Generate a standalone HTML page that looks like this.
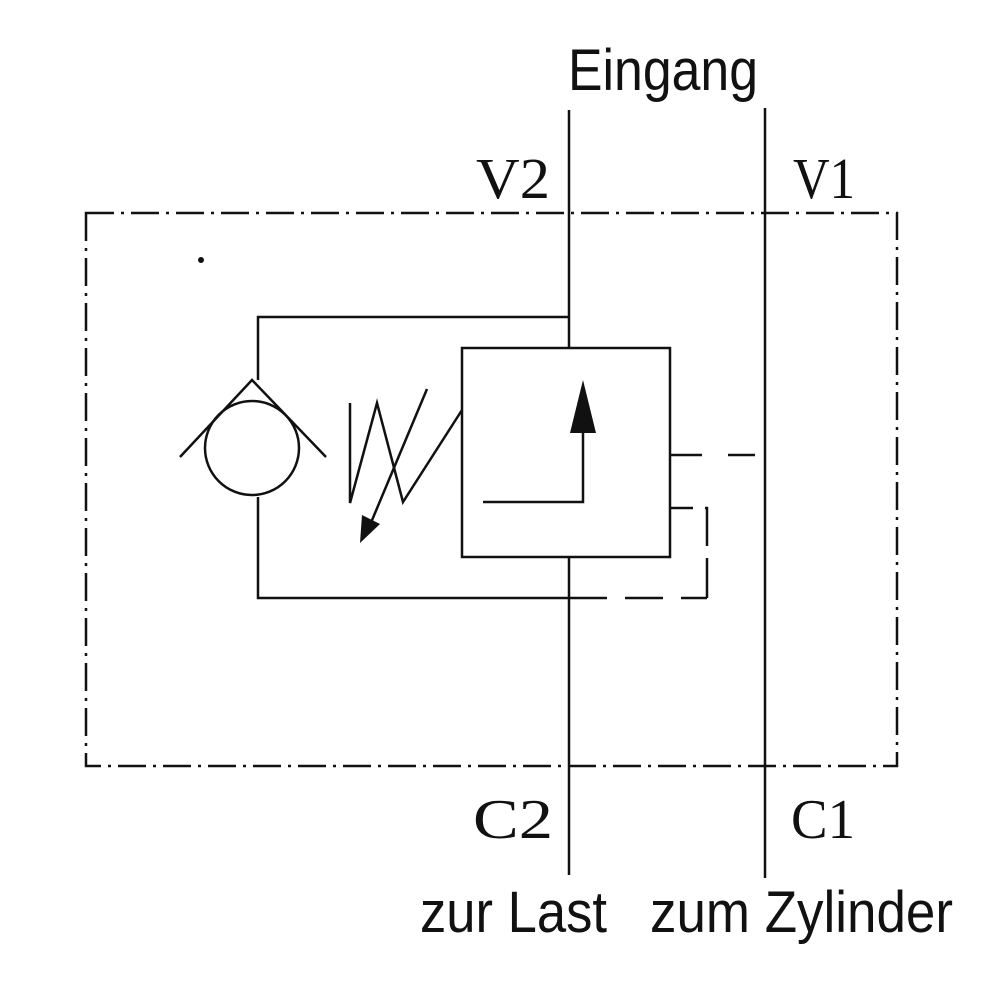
<!DOCTYPE html>
<html><head><meta charset="utf-8"><style>html,body{margin:0;padding:0;background:#fff}svg{display:block}</style></head>
<body>
<svg width="1000" height="1000" viewBox="0 0 1000 1000" xmlns="http://www.w3.org/2000/svg">
<g stroke="#111" stroke-width="2.5" fill="none">
<rect x="86" y="213" width="811" height="553" stroke-dasharray="28,7,3,7"/>
<line x1="569" y1="110" x2="569" y2="875"/>
<line x1="765" y1="108" x2="765" y2="878"/>
<polyline points="569,317 258,317 258,380"/>
<polyline points="258,497 258,598 569,598"/>
<line x1="569" y1="598" x2="707" y2="598" stroke-dasharray="38,18"/>
<polyline points="707,598 707,508 670,508" stroke-dasharray="40,12"/>
<line x1="670" y1="455" x2="755" y2="455" stroke-dasharray="32,26"/>
<circle cx="252" cy="448" r="47"/>
<polyline points="180,457 252,380 326,457"/>
<polyline points="350,403 350,503 377,403 403,502 462,410"/>
<line x1="427" y1="389" x2="370" y2="525"/>
<rect x="462" y="348" width="208" height="209" fill="#fff"/>
<polyline points="483,502 583,502 583,430"/>
</g>
<polygon points="583,380 570,433 596,433" fill="#111"/>
<polygon points="360,543 362,515 380,524" fill="#111"/>
<circle cx="201" cy="260" r="3" fill="#111"/>
<g fill="#111">
<text x="568" y="90" font-family="Liberation Sans Narrow, Liberation Sans, sans-serif" font-size="58" textLength="190" lengthAdjust="spacingAndGlyphs">Eingang</text>
<text x="420" y="932" font-family="Liberation Sans Narrow, Liberation Sans, sans-serif" font-size="58" textLength="187" lengthAdjust="spacingAndGlyphs">zur Last</text>
<text x="650" y="932" font-family="Liberation Sans Narrow, Liberation Sans, sans-serif" font-size="58" textLength="303" lengthAdjust="spacingAndGlyphs">zum Zylinder</text>
<text x="476" y="198" font-family="Liberation Serif, serif" font-size="58" textLength="74" lengthAdjust="spacingAndGlyphs">V2</text>
<text x="793" y="198" font-family="Liberation Serif, serif" font-size="58" textLength="62" lengthAdjust="spacingAndGlyphs">V1</text>
<text x="473" y="838" font-family="Liberation Serif, serif" font-size="56" textLength="80" lengthAdjust="spacingAndGlyphs">C2</text>
<text x="791" y="838" font-family="Liberation Serif, serif" font-size="56" textLength="64" lengthAdjust="spacingAndGlyphs">C1</text>
</g>
</svg>
</body></html>
